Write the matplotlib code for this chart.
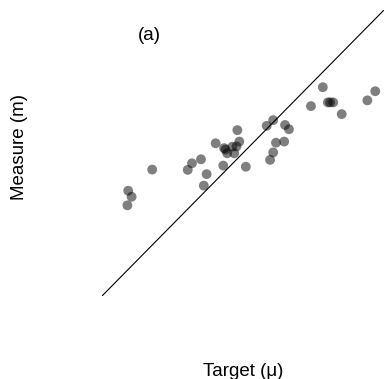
import matplotlib
matplotlib.use("Agg")
import matplotlib.pyplot as plt

# target (x) and measure (y), in plot units (0..100 both axes)
target = [48.0, 40.3, 43.3, 43.8, 44.4, 46.2, 47.7, 48.7, 46.9, 35.1,
          31.9, 30.4, 17.8, 43.0, 51.0, 37.1, 36.1, 9.3, 10.5, 9.0,
          78.3, 96.9, 94.1, 74.1, 80.1, 80.9, 82.0, 85.0, 60.7, 58.4,
          64.9, 66.3, 64.6, 61.7, 60.7, 59.6]
measure = [58.0, 53.4, 51.7, 51.2, 49.9, 52.2, 52.3, 54.0, 49.9, 47.8,
           46.4, 44.1, 44.2, 45.6, 45.2, 42.6, 38.6, 36.8, 34.7, 31.7,
           73.0, 71.6, 68.4, 66.4, 67.7, 67.7, 67.7, 63.6, 61.5, 59.5,
           59.8, 58.3, 54.0, 53.6, 50.2, 47.6]

W, H = 384, 379
fig = plt.figure(figsize=(W / 100, H / 100), dpi=100)
fig.patch.set_facecolor("white")
plt.rcParams["font.family"] = ["Liberation Sans", "DejaVu Sans"]

# plot region in pixels: left 102, right 384, top 10, bottom 296
ax = fig.add_axes([102 / W, (H - 296) / H, 282 / W, 286 / H])
ax.set_xlim(0, 100)
ax.set_ylim(0, 100)
ax.axis("off")

ax.axline((0, 0), slope=1, color="black", lw=0.8)
ax.scatter(target, measure, s=50, color="black", alpha=0.5, edgecolors="none")

fs = 13.5
fig.text(149 / W, 1 - 40 / H, "(a)", ha="center", va="baseline", fontsize=fs)
fig.text(243 / W, 1 - 376.5 / H, "Target (\u03bc)", ha="center", va="baseline", fontsize=fs)
fig.text(19.5 / W, 1 - 146.5 / H, "Measure (m)", ha="center", va="center",
         rotation=90, fontsize=fs)

fig.savefig("out.png", dpi=100)
